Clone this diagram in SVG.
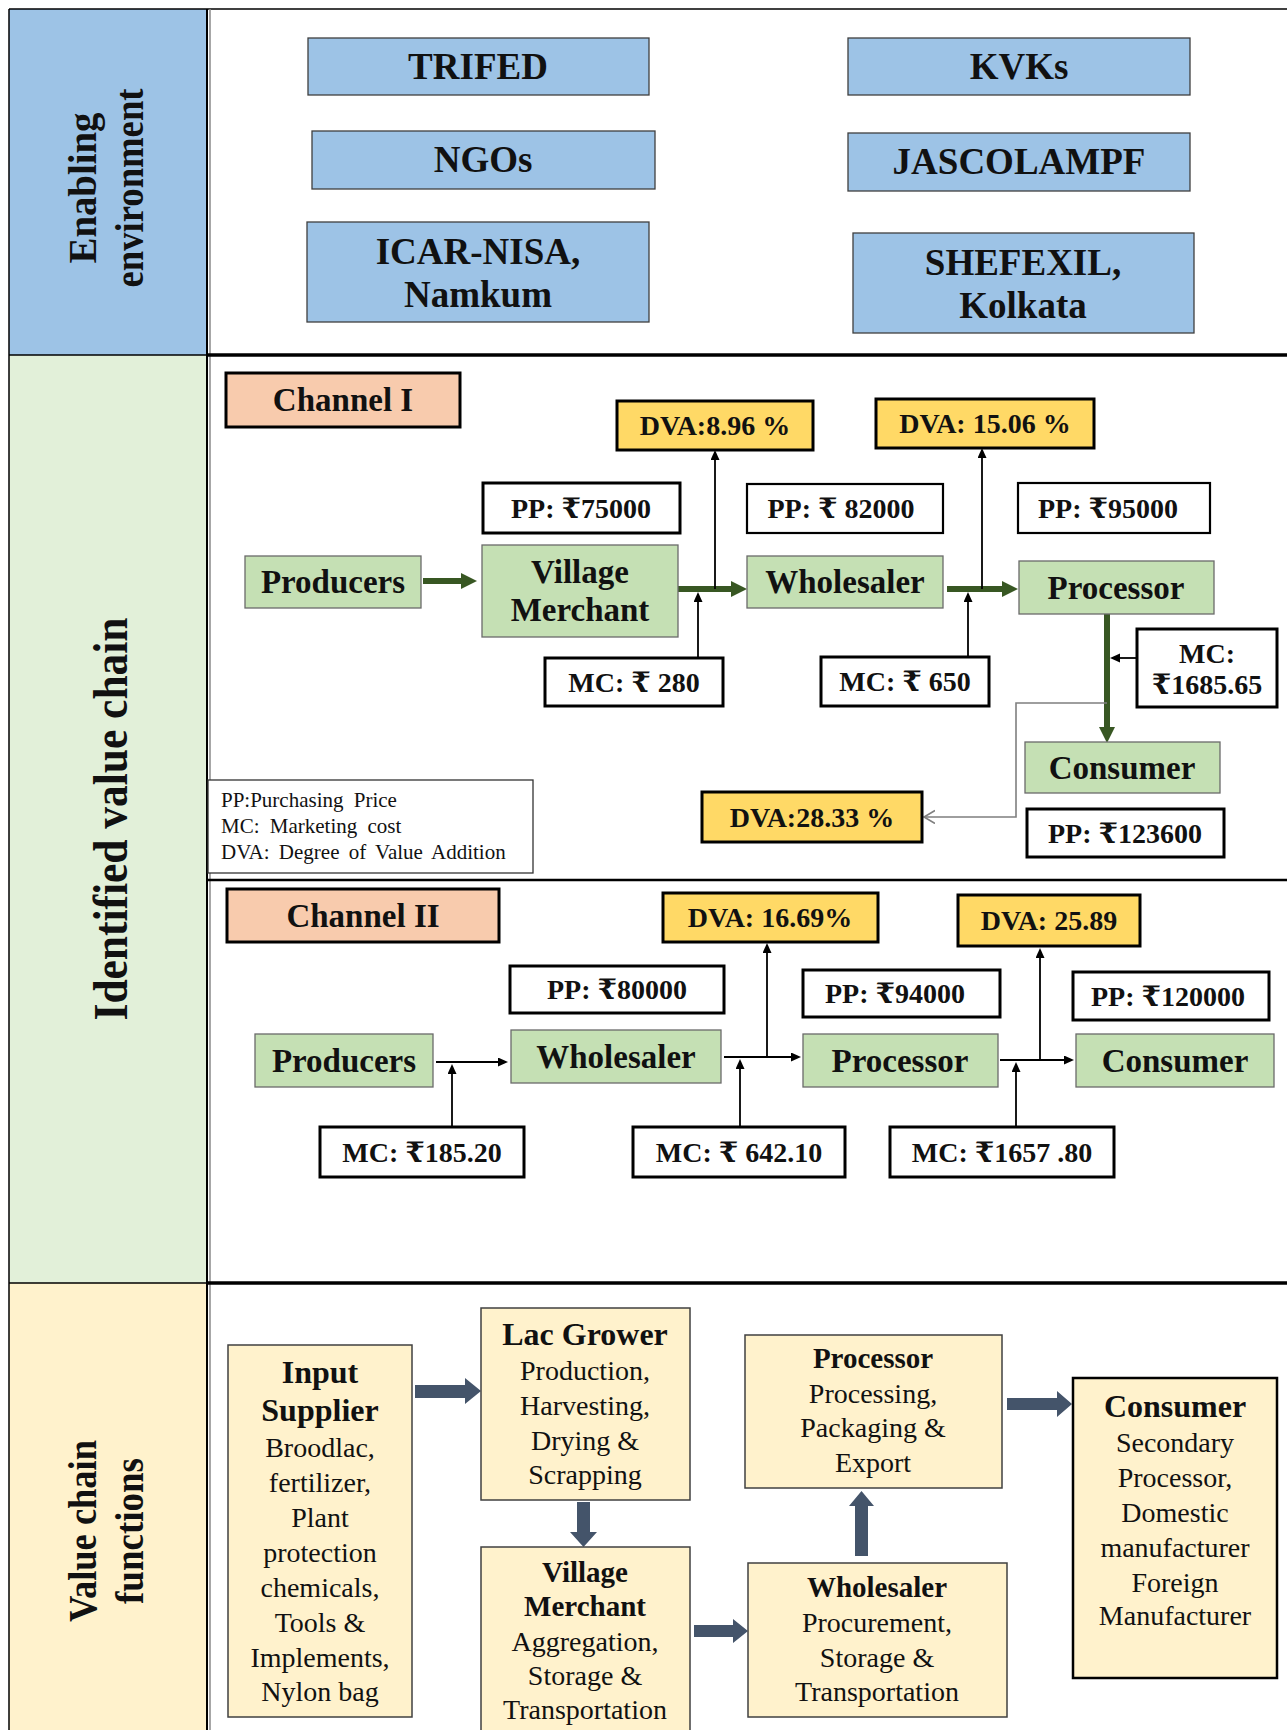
<svg xmlns="http://www.w3.org/2000/svg" width="1287" height="1730" viewBox="0 0 1287 1730">
<style>
text{font-family:"Liberation Serif","DejaVu Serif",serif;fill:#111;text-anchor:middle}
.b{font-weight:bold}
.ee{fill:#9DC3E6;stroke:#3f3f3f;stroke-width:1.3}
.nd{fill:#C5E0B4;stroke:#6a6a6a;stroke-width:1.3}
.ch{fill:#F8CBAD;stroke:#000;stroke-width:3}
.dva{fill:#FFD966;stroke:#000;stroke-width:3}
.lb{fill:#fff;stroke:#000;stroke-width:3}
.lb2{fill:#fff;stroke:#000;stroke-width:2.2}
.vc{fill:#FFF2CC;stroke:#404040;stroke-width:1.5}
.t37{font-size:37px}
.t33{font-size:33px}
.t28{font-size:28px}
.vt{font-size:28px}
.vh{font-size:32px;font-weight:bold}
.vh2{font-size:29px;font-weight:bold}
.lg{font-size:21px;text-anchor:start}
.g{stroke:#385723;stroke-width:6;fill:none}
.k{stroke:#000;stroke-width:1.8;fill:none}
.blk{fill:#44546A}
</style>
<defs>
<marker id="ag" markerUnits="userSpaceOnUse" markerWidth="18" markerHeight="18" refX="1" refY="8" orient="auto"><path d="M0,0 L16,8 L0,16 z" fill="#385723"/></marker>
<marker id="ab" markerUnits="userSpaceOnUse" markerWidth="11" markerHeight="10" refX="1" refY="4.5" orient="auto"><path d="M0,0 L10,4.5 L0,9 z" fill="#000"/></marker>
<marker id="ao" markerUnits="userSpaceOnUse" markerWidth="14" markerHeight="16" refX="11" refY="7" orient="auto"><path d="M0,0.5 L11,7 L0,13.5" fill="none" stroke="#7f7f7f" stroke-width="1.6"/></marker>
</defs>
<rect x="0" y="0" width="1287" height="1730" fill="#fff"/>

<g id="frame">
<rect x="9" y="9" width="198" height="346" fill="#9DC3E6"/>
<rect x="9" y="355" width="198" height="928" fill="#E2F0D9"/>
<rect x="9" y="1283" width="198" height="447" fill="#FFF2CC"/>
<line x1="9" y1="9" x2="1287" y2="9" stroke="#000" stroke-width="1.5"/>
<line x1="9" y1="9" x2="9" y2="1730" stroke="#000" stroke-width="1.5"/>
<line x1="207" y1="9" x2="207" y2="1730" stroke="#000" stroke-width="2"/>
<line x1="210" y1="9" x2="210" y2="1730" stroke="#8a8a8a" stroke-width="1.5"/>
<line x1="9" y1="355" x2="207" y2="355" stroke="#000" stroke-width="1.5"/>
<line x1="207" y1="355" x2="1287" y2="355" stroke="#000" stroke-width="3.5"/>
<line x1="207" y1="880" x2="1287" y2="880" stroke="#000" stroke-width="2.5"/>
<line x1="9" y1="1283" x2="207" y2="1283" stroke="#000" stroke-width="1.5"/>
<line x1="207" y1="1283" x2="1287" y2="1283" stroke="#000" stroke-width="3.5"/>
</g>

<g id="label-enabling">
<text class="b" font-size="41" textLength="151" lengthAdjust="spacingAndGlyphs" transform="translate(96,188) rotate(-90)">Enabling</text>
<text class="b" font-size="41" textLength="199" lengthAdjust="spacingAndGlyphs" transform="translate(143,188) rotate(-90)">environment</text>
</g>
<g id="label-identified">
<text class="b" font-size="48" textLength="403" lengthAdjust="spacingAndGlyphs" transform="translate(127,819) rotate(-90)">Identified value chain</text>
</g>
<g id="label-functions">
<text class="b" font-size="41" textLength="182" lengthAdjust="spacingAndGlyphs" transform="translate(96,1531) rotate(-90)">Value chain</text>
<text class="b" font-size="41" textLength="146" lengthAdjust="spacingAndGlyphs" transform="translate(143,1531) rotate(-90)">functions</text>
</g>

<g id="trifed"><rect class="ee" x="308" y="38" width="341" height="57"/><text class="b t37" x="478" y="79">TRIFED</text></g>
<g id="kvks"><rect class="ee" x="848" y="38" width="342" height="57"/><text class="b t37" x="1019" y="79">KVKs</text></g>
<g id="ngos"><rect class="ee" x="312" y="131" width="343" height="58"/><text class="b t37" x="483" y="172">NGOs</text></g>
<g id="jascolampf"><rect class="ee" x="848" y="133" width="342" height="58"/><text class="b t37" x="1019" y="174">JASCOLAMPF</text></g>
<g id="icar"><rect class="ee" x="307" y="222" width="342" height="100"/><text class="b t37" x="478" y="264">ICAR-NISA,</text><text class="b t37" x="478" y="307">Namkum</text></g>
<g id="shefexil"><rect class="ee" x="853" y="233" width="341" height="100"/><text class="b t37" x="1023" y="275">SHEFEXIL,</text><text class="b t37" x="1023" y="318">Kolkata</text></g>

<g id="connectors">
<path class="g" d="M423 581 H462" marker-end="url(#ag)"/>
<path class="g" d="M678 589 H732" marker-end="url(#ag)"/>
<path class="g" d="M947 589 H1003" marker-end="url(#ag)"/>
<path class="g" d="M1107 614 V728" marker-end="url(#ag)"/>
<path class="k" d="M715 589 V459" marker-end="url(#ab)"/>
<path class="k" d="M698 658 V601" marker-end="url(#ab)"/>
<path class="k" d="M982 589 V457" marker-end="url(#ab)"/>
<path class="k" d="M968 657 V601" marker-end="url(#ab)"/>
<path class="k" d="M1137 658 H1119" marker-end="url(#ab)"/>
<path d="M1107 703 H1016 V817 H924" fill="none" stroke="#7f7f7f" stroke-width="1.6" marker-end="url(#ao)"/>
<path class="k" d="M436 1062 H499" marker-end="url(#ab)"/>
<path class="k" d="M452 1127 V1073" marker-end="url(#ab)"/>
<path class="k" d="M724 1057 H792" marker-end="url(#ab)"/>
<path class="k" d="M767 1057 V952" marker-end="url(#ab)"/>
<path class="k" d="M740 1127 V1068" marker-end="url(#ab)"/>
<path class="k" d="M1000 1060 H1065" marker-end="url(#ab)"/>
<path class="k" d="M1040 1060 V957" marker-end="url(#ab)"/>
<path class="k" d="M1016 1127 V1071" marker-end="url(#ab)"/>
<polygon class="blk" points="415,1385 465,1385 465,1378 481,1391 465,1404 465,1398 415,1398"/>
<polygon class="blk" points="577,1502 590,1502 590,1532 597,1532 583.5,1547 570,1532 577,1532"/>
<polygon class="blk" points="694,1625 733,1625 733,1619 748,1631 733,1643 733,1637 694,1637"/>
<polygon class="blk" points="855,1556 868,1556 868,1506 874,1506 861.5,1491 849,1506 855,1506"/>
<polygon class="blk" points="1007,1398 1057,1398 1057,1391 1072,1404 1057,1417 1057,1410 1007,1410"/>
</g>

<g id="channel1"><rect class="ch" x="226" y="373" width="234" height="54"/><text class="b t33" x="343" y="411">Channel I</text></g>
<g id="dva1"><rect class="dva" x="617" y="401" width="196" height="49"/><text class="b t28" x="715" y="435">DVA:8.96 %</text></g>
<g id="dva2"><rect class="dva" x="876" y="399" width="218" height="49"/><text class="b t28" x="985" y="433">DVA: 15.06 %</text></g>
<g id="pp1"><rect class="lb" x="483" y="483" width="197" height="50"/><text class="b t28" x="581" y="518">PP: ₹75000</text></g>
<g id="pp2"><rect class="lb2" x="747" y="484" width="196" height="49"/><text class="b t28" x="841" y="518">PP: ₹ 82000</text></g>
<g id="pp3"><rect class="lb2" x="1018" y="483" width="192" height="50"/><text class="b t28" x="1108" y="518">PP: ₹95000</text></g>
<g id="producers1"><rect class="nd" x="245" y="556" width="176" height="52"/><text class="b t33" x="333" y="593">Producers</text></g>
<g id="village1"><rect class="nd" x="482" y="545" width="196" height="92"/><text class="b t33" x="580" y="583">Village</text><text class="b t33" x="580" y="621">Merchant</text></g>
<g id="wholesaler1"><rect class="nd" x="747" y="556" width="196" height="52"/><text class="b t33" x="845" y="593">Wholesaler</text></g>
<g id="processor1"><rect class="nd" x="1019" y="561" width="195" height="53"/><text class="b t33" x="1116" y="599">Processor</text></g>
<g id="mc1"><rect class="lb" x="545" y="658" width="178" height="48"/><text class="b t28" x="634" y="692">MC: ₹ 280</text></g>
<g id="mc2"><rect class="lb" x="821" y="657" width="168" height="49"/><text class="b t28" x="905" y="691">MC: ₹ 650</text></g>
<g id="mc3"><rect class="lb" x="1137" y="629" width="140" height="78"/><text class="b t28" x="1207" y="663">MC:</text><text class="b t28" x="1207" y="694">₹1685.65</text></g>
<g id="consumer1"><rect class="nd" x="1025" y="742" width="195" height="51"/><text class="b t33" x="1122" y="779">Consumer</text></g>
<g id="pp4"><rect class="lb" x="1027" y="809" width="197" height="48"/><text class="b t28" x="1125" y="843">PP: ₹123600</text></g>
<g id="dva3"><rect class="dva" x="702" y="792" width="220" height="50"/><text class="b t28" x="812" y="827">DVA:28.33 %</text></g>
<g id="legend"><rect x="208" y="780" width="325" height="93" fill="#fff" stroke="#333" stroke-width="1.3"/>
<text class="lg" x="221" y="807" word-spacing="5">PP:Purchasing Price</text>
<text class="lg" x="221" y="833" word-spacing="5">MC: Marketing cost</text>
<text class="lg" x="221" y="859" word-spacing="4">DVA: Degree of Value Addition</text></g>

<g id="channel2"><rect class="ch" x="227" y="889" width="272" height="53"/><text class="b t33" x="363" y="927">Channel II</text></g>
<g id="dva4"><rect class="dva" x="663" y="893" width="215" height="49"/><text class="b t28" x="770" y="927">DVA: 16.69%</text></g>
<g id="dva5"><rect class="dva" x="958" y="895" width="182" height="51"/><text class="b t28" x="1049" y="930">DVA: 25.89</text></g>
<g id="pp5"><rect class="lb" x="510" y="966" width="214" height="47"/><text class="b t28" x="617" y="999">PP: ₹80000</text></g>
<g id="pp6"><rect class="lb" x="803" y="970" width="197" height="47"/><text class="b t28" x="895" y="1003">PP: ₹94000</text></g>
<g id="pp7"><rect class="lb" x="1073" y="972" width="196" height="48"/><text class="b t28" x="1168" y="1006">PP: ₹120000</text></g>
<g id="producers2"><rect class="nd" x="255" y="1034" width="178" height="53"/><text class="b t33" x="344" y="1072">Producers</text></g>
<g id="wholesaler2"><rect class="nd" x="511" y="1030" width="210" height="53"/><text class="b t33" x="616" y="1068">Wholesaler</text></g>
<g id="processor2"><rect class="nd" x="803" y="1034" width="195" height="53"/><text class="b t33" x="900" y="1072">Processor</text></g>
<g id="consumer2"><rect class="nd" x="1076" y="1034" width="198" height="53"/><text class="b t33" x="1175" y="1072">Consumer</text></g>
<g id="mc4"><rect class="lb" x="320" y="1127" width="204" height="50"/><text class="b t28" x="422" y="1162">MC: ₹185.20</text></g>
<g id="mc5"><rect class="lb" x="633" y="1127" width="212" height="50"/><text class="b t28" x="739" y="1162">MC: ₹ 642.10</text></g>
<g id="mc6"><rect class="lb" x="890" y="1127" width="224" height="50"/><text class="b t28" x="1002" y="1162">MC: ₹1657 .80</text></g>

<g id="f-input"><rect class="vc" x="228" y="1345" width="184" height="372"/>
<text class="vh" x="320" y="1383">Input</text><text class="vh" x="320" y="1421">Supplier</text>
<text class="vt" x="320" y="1457">Broodlac,</text><text class="vt" x="320" y="1492">fertilizer,</text><text class="vt" x="320" y="1527">Plant</text><text class="vt" x="320" y="1562">protection</text><text class="vt" x="320" y="1597">chemicals,</text><text class="vt" x="320" y="1632">Tools &amp;</text><text class="vt" x="320" y="1667">Implements,</text><text class="vt" x="320" y="1701">Nylon bag</text></g>
<g id="f-grower"><rect class="vc" x="481" y="1308" width="209" height="192"/>
<text class="vh" x="585" y="1345">Lac Grower</text><text class="vt" x="585" y="1380">Production,</text><text class="vt" x="585" y="1415">Harvesting,</text><text class="vt" x="585" y="1450">Drying &amp;</text><text class="vt" x="585" y="1484">Scrapping</text></g>
<g id="f-village"><rect class="vc" x="481" y="1547" width="209" height="195"/>
<text class="vh2" x="585" y="1582">Village</text><text class="vh2" x="585" y="1616">Merchant</text><text class="vt" x="585" y="1651">Aggregation,</text><text class="vt" x="585" y="1685">Storage &amp;</text><text class="vt" x="585" y="1719">Transportation</text></g>
<g id="f-processor"><rect class="vc" x="745" y="1335" width="257" height="153"/>
<text class="vh2" x="873" y="1368">Processor</text><text class="vt" x="873" y="1403">Processing,</text><text class="vt" x="873" y="1437">Packaging &amp;</text><text class="vt" x="873" y="1472">Export</text></g>
<g id="f-wholesaler"><rect class="vc" x="748" y="1563" width="259" height="154"/>
<text class="vh2" x="877" y="1597">Wholesaler</text><text class="vt" x="877" y="1632">Procurement,</text><text class="vt" x="877" y="1667">Storage &amp;</text><text class="vt" x="877" y="1701">Transportation</text></g>
<g id="f-consumer"><rect x="1073" y="1378" width="204" height="300" fill="#FFF2CC" stroke="#000" stroke-width="2.5"/>
<text class="vh" x="1175" y="1417">Consumer</text><text class="vt" x="1175" y="1452">Secondary</text><text class="vt" x="1175" y="1487">Processor,</text><text class="vt" x="1175" y="1522">Domestic</text><text class="vt" x="1175" y="1557">manufacturer</text><text class="vt" x="1175" y="1592">Foreign</text><text class="vt" x="1175" y="1625">Manufacturer</text></g>
</svg>
